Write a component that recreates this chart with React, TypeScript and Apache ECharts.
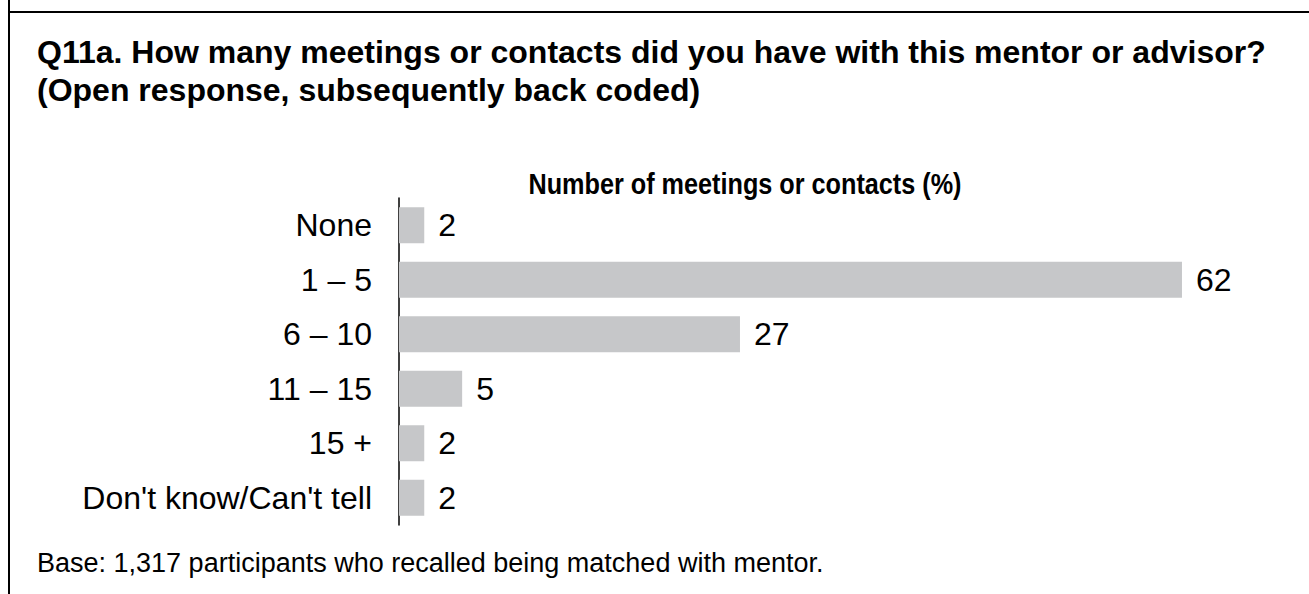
import React, { useEffect, useRef } from "react";
import * as echarts from "echarts";

const categories = ["None", "1 – 5", "6 – 10", "11 – 15", "15 +", "Don't know/Can't tell"];
const values = [2, 62, 27, 5, 2, 2];
const titleLines = [
  "Q11a. How many meetings or contacts did you have with this mentor or advisor?",
  "(Open response, subsequently back coded)",
];
const chartTitle = "Number of meetings or contacts (%)";
const baseNote = "Base: 1,317 participants who recalled being matched with mentor.";

const FONT = "'Liberation Sans', Arial, Helvetica, sans-serif";

export default function App() {
  const ref = useRef<HTMLDivElement>(null);
  useEffect(() => {
    if (!ref.current) return;
    const chart = echarts.init(ref.current, undefined, { renderer: "svg" });
    chart.setOption({
      animation: false,
      backgroundColor: "#ffffff",
      textStyle: { fontFamily: FONT },
      graphic: [
        { type: "line", shape: { x1: 9, y1: 0, x2: 9, y2: 594 }, style: { stroke: "#000", lineWidth: 2 } },
        { type: "line", shape: { x1: 8, y1: 12, x2: 1309, y2: 12 }, style: { stroke: "#000", lineWidth: 2 } },
        {
          type: "text", left: 37, top: 36,
          style: { text: titleLines[0], font: `bold 32px ${FONT}`, fill: "#000" },
        },
        {
          type: "text", left: 37, top: 74,
          style: { text: titleLines[1], font: `bold 32px ${FONT}`, fill: "#000" },
        },
        {
          type: "text", x: 745, y: 184, scaleX: 0.87,
          style: { text: chartTitle, font: `bold 29px ${FONT}`, fill: "#000", align: "center", verticalAlign: "middle" },
        },
        {
          type: "text", x: 37, y: 563,
          style: { text: baseNote, font: `27px ${FONT}`, fill: "#000", align: "left", verticalAlign: "middle" },
        },
      ],
      grid: { left: 399, top: 198, width: 884, height: 327, containLabel: false },
      xAxis: {
        type: "value", min: 0, max: 70, show: false,
      },
      yAxis: {
        type: "category", data: categories, inverse: true,
        axisLine: { show: true, lineStyle: { color: "#000", width: 1.5 } },
        axisTick: { show: false },
        axisLabel: { color: "#000", fontSize: 32, fontFamily: FONT, margin: 27 },
      },
      series: [
        {
          type: "bar", data: values, barWidth: 36,
          itemStyle: { color: "#c6c7c9" },
          label: { show: true, position: "right", distance: 14, color: "#000", fontSize: 32, fontFamily: FONT },
        },
      ],
    });
    return () => chart.dispose();
  }, []);
  return <div ref={ref} style={{ position: "absolute", left: 0, top: 0, width: 1309, height: 594 }} />;
}
